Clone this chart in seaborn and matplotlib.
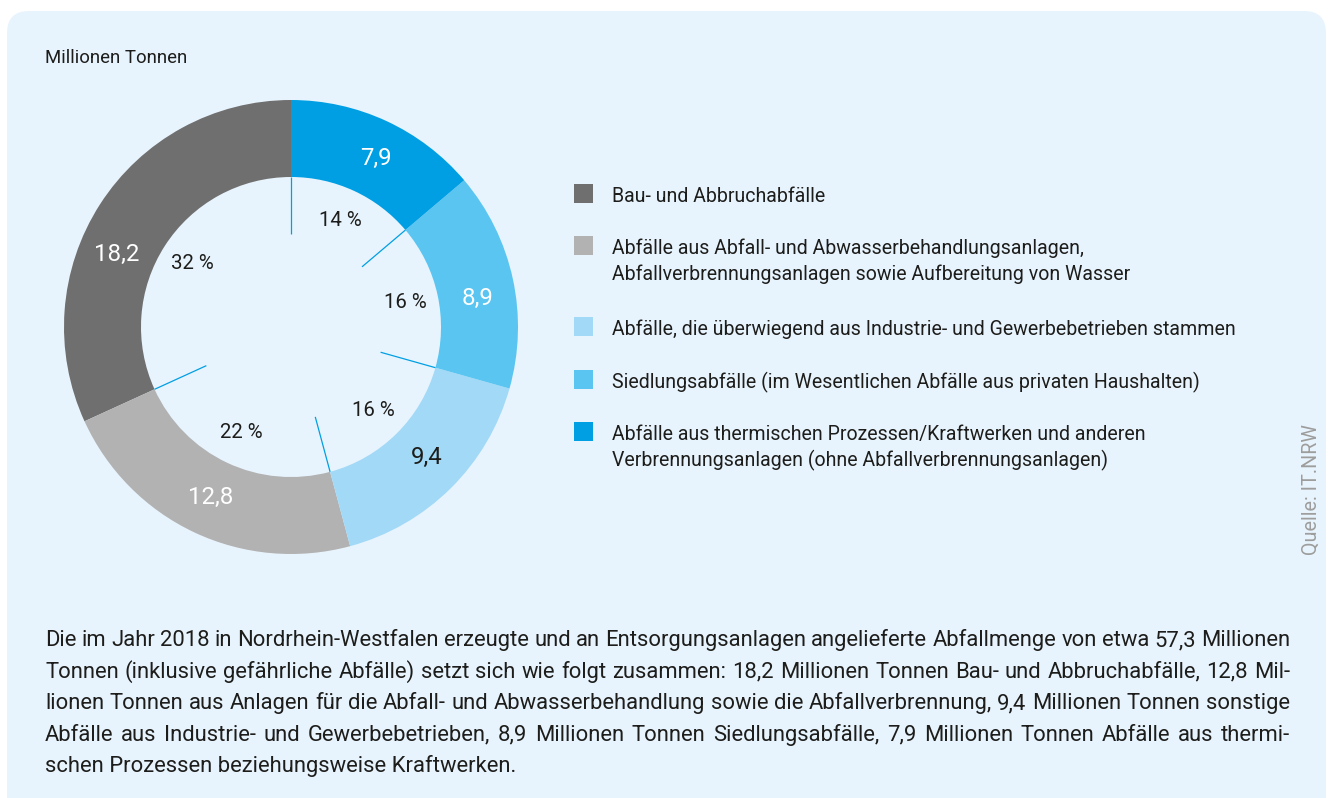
import matplotlib
matplotlib.use("Agg")
import matplotlib.pyplot as plt
import seaborn as sns
import numpy as np
from matplotlib.patches import FancyBboxPatch, Rectangle

# ---------------- data ----------------
title = "Millionen Tonnen"
source = "Quelle: IT.NRW"
categories = [
    ["Bau- und Abbruchabfälle"],
    ["Abfälle aus Abfall- und Abwasserbehandlungsanlagen,",
     "Abfallverbrennungsanlagen sowie Aufbereitung von Wasser"],
    ["Abfälle, die überwiegend aus Industrie- und Gewerbebetrieben stammen"],
    ["Siedlungsabfälle (im Wesentlichen Abfälle aus privaten Haushalten)"],
    ["Abfälle aus thermischen Prozessen/Kraftwerken und anderen",
     "Verbrennungsanlagen (ohne Abfallverbrennungsanlagen)"],
]
values = [18.2, 12.8, 9.4, 8.9, 7.9]
value_labels = ["18,2", "12,8", "9,4", "8,9", "7,9"]
colors = ["#706f6f", "#b2b2b2", "#a2d9f7", "#5bc5f1", "#009fe3"]
value_text_colors = ["white", "white", "#1d1d1b", "white", "white"]
paragraph_lines = [
    "Die im Jahr 2018 in Nordrhein-Westfalen erzeugte und an Entsorgungsanlagen angelieferte Abfallmenge von etwa 57,3 Millionen",
    "Tonnen (inklusive gefährliche Abfälle) setzt sich wie folgt zusammen: 18,2 Millionen Tonnen Bau- und Abbruchabfälle, 12,8 Mil-",
    "lionen Tonnen aus Anlagen für die Abfall- und Abwasserbehandlung sowie die Abfallverbrennung, 9,4 Millionen Tonnen sonstige",
    "Abfälle aus Industrie- und Gewerbebetrieben, 8,9 Millionen Tonnen Siedlungsabfälle, 7,9 Millionen Tonnen Abfälle aus thermi-",
    "schen Prozessen beziehungsweise Kraftwerken.",
]
total = sum(values)
pct_labels = [f"{round(v / total * 100)} %" for v in values]

# ---------------- style ----------------
sns.set_theme(style="white")
plt.rcParams['font.family'] = ['Roboto', 'DejaVu Sans']
TXT = "#1d1d1b"
BG = "#e8f4fd"
LINE = "#009fe3"

W, H = 1328, 798
fig = plt.figure(figsize=(W / 100, H / 100), dpi=100)
fig.patch.set_facecolor("white")

bg = fig.add_axes([0, 0, 1, 1])
bg.set_xlim(0, W)
bg.set_ylim(H, 0)
bg.axis("off")
bg.add_patch(FancyBboxPatch((7, 11), 1319, 900,
                            boxstyle="round,pad=0,rounding_size=22",
                            facecolor=BG, edgecolor="none", zorder=0))

renderer = fig.canvas.get_renderer()


def text_width(s, size, **kw):
    t = bg.text(0, 0, s, fontsize=size, **kw)
    w = t.get_window_extent(renderer).width
    t.remove()
    return w


def fit(s, target, **kw):
    return 10 * target / text_width(s, 10, **kw)


# title
fs_title = fit(title, 143)
bg.text(45, 63, title, fontsize=fs_title, color=TXT, ha="left", va="baseline")

# source (vertical)
fs_src = fit(source, 130)
bg.text(1311, 490, source, fontsize=fs_src, color="#9d9d9c", rotation=90,
        ha="center", va="center")

# legend
fs_leg = fit(categories[2][0], 623)
sq_tops = [184, 236, 317, 370, 422]
for i, lines in enumerate(categories):
    top = sq_tops[i]
    bg.add_patch(Rectangle((574, top), 19, 18.5, facecolor=colors[i],
                           edgecolor="none", zorder=2))
    for j, ln in enumerate(lines):
        bg.text(612, top + 18 + 26 * j, ln, fontsize=fs_leg, color=TXT,
                ha="left", va="baseline")

# paragraph (justified)
fs_par = fit(paragraph_lines[-1], 472)
x_left, x_right = 45, 1290
base0, step = 646, 31.6
space_w = text_width("a a", fs_par) - text_width("aa", fs_par)
for k, ln in enumerate(paragraph_lines):
    y = base0 + step * k
    if k == len(paragraph_lines) - 1:
        bg.text(x_left, y, ln, fontsize=fs_par, color=TXT, ha="left", va="baseline")
        continue
    words = ln.split(" ")
    widths = [text_width(wd, fs_par) for wd in words]
    gap = (x_right - x_left - sum(widths)) / (len(words) - 1)
    x = x_left
    for wd, wdw in zip(words, widths):
        bg.text(x, y, wd, fontsize=fs_par, color=TXT, ha="left", va="baseline")
        x += wdw + gap

# ---------------- donut ----------------
cx, cy, R = 291, 327, 227
half = 240
ax = fig.add_axes([(cx - half) / W, (H - cy - half) / H, 2 * half / W, 2 * half / H])
ax.patch.set_alpha(0)
ring = 77 / R
wedges, _ = ax.pie(values, colors=colors, startangle=90, counterclock=True,
                   radius=1, wedgeprops=dict(width=ring, linewidth=0))
lim = half / R
ax.set_xlim(-lim, lim)
ax.set_ylim(-lim, lim)
ax.set_aspect("equal")
ax.axis("off")

r_in = 1 - ring
fs_val = fit("18,2", 45)
fs_pct = fit("32 %", 43)
val_angle_offset = [10, 0, 1.5, -3.5, -2]
for i, w in enumerate(wedges):
    t1, t2 = w.theta1, w.theta2
    b = np.deg2rad(t1)
    ax.plot([r_in * np.cos(b), 0.41 * np.cos(b)],
            [r_in * np.sin(b), 0.41 * np.sin(b)],
            color=LINE, lw=0.9, solid_capstyle="butt")
    mid = (t1 + t2) / 2
    m = np.deg2rad(mid + val_angle_offset[i])
    rv = 1 - ring / 2
    ax.text(rv * np.cos(m), rv * np.sin(m), value_labels[i], fontsize=fs_val,
            color=value_text_colors[i], ha="center", va="center")
    p = np.deg2rad(mid)
    rp = 0.515
    ax.text(rp * np.cos(p), rp * np.sin(p), pct_labels[i], fontsize=fs_pct,
            color=TXT, ha="center", va="center")

fig.savefig("out.png", dpi=100, facecolor="white")
